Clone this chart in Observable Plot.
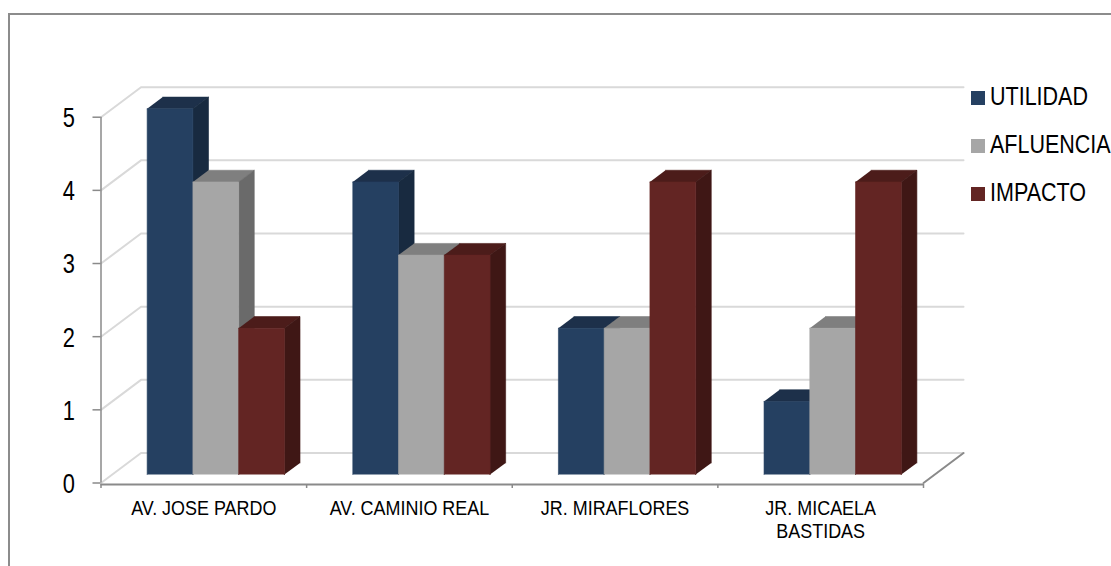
<!DOCTYPE html>
<html>
<head>
<meta charset="utf-8">
<script src="https://cdn.jsdelivr.net/npm/d3@7"></script>
<script src="https://cdn.jsdelivr.net/npm/@observablehq/plot@0.6"></script>
<style>
  html, body { margin: 0; padding: 0; background: #fff; overflow: hidden; }
  #chart { position: relative; width: 1111px; height: 566px; overflow: hidden;
           font-family: "Liberation Sans", sans-serif; }
  #frame { position: absolute; left: 8px; top: 13px; right: -10px; bottom: -10px;
           border: 2px solid #8c8c8c; pointer-events: none; }
  #chart svg { position: absolute; left: 0; top: 0; background: transparent; font-family: inherit; }
  .key { position: absolute; left: 971px; display: flex; align-items: center; height: 14px;
         font-size: 25px; color: #000; white-space: nowrap; }
  .key i { display: block; width: 14px; height: 14px; margin-right: 5px; flex: none; }
  .key span { display: block; transform: translateY(-2px) scaleX(0.86); transform-origin: left center; }
</style>
</head>
<body>
<div id="chart"><div id="frame"></div></div>
<script>
const categories = ["AV. JOSE PARDO", "AV. CAMINIO REAL", "JR. MIRAFLORES", "JR. MICAELA\nBASTIDAS"];
const seriesNames = ["UTILIDAD", "AFLUENCIA", "IMPACTO"];
const utilidad = [5, 4, 2, 1];
const afluencia = [4, 3, 2, 2];
const impacto = [2, 3, 4, 4];
const yTicks = [0, 1, 2, 3, 4, 5];

const frontColors = ["#254061", "#a6a6a6", "#632523"];
const topColors = ["#1d304a", "#7f7f7f", "#4c1c1a"];
const sideColors = ["#182a40", "#6a6a6a", "#3f1715"];

// Oblique projection: depth 0 is the front of the floor, depth 1 the back wall.
const depthX = 0.1946, depthY = 0.41;
const project = (x, y, d) => ({x: x + d * depthX, y: y + d * depthY});

const gap = 0.17, barW = 0.2225, d0 = 0.28, d1 = 0.67;
const allValues = [utilidad, afluencia, impacto];
const polys = [];
function poly(id, face, pts) { pts.forEach(p => polys.push({id, face, ...p})); }
categories.forEach((c, i) => {
  seriesNames.forEach((s, j) => {
    const v = allValues[j][i], a = i + gap + j * barW, b = a + barW, id = `${i}-${j}`;
    poly(id + "t", `${s}-t`, [project(a, v, d0), project(b, v, d0), project(b, v, d1), project(a, v, d1)]);
    poly(id + "s", `${s}-s`, [project(b, 0, d0), project(b, v, d0), project(b, v, d1), project(b, 0, d1)]);
    poly(id + "f", `${s}-f`, [project(a, 0, d0), project(a, v, d0), project(b, v, d0), project(b, 0, d0)]);
  });
});
const faceDomain = seriesNames.flatMap(s => [`${s}-f`, `${s}-t`, `${s}-s`]);
const faceRange = seriesNames.flatMap((s, j) => [frontColors[j], topColors[j], sideColors[j]]);

const grid = yTicks.flatMap(v => [project(0, v, 0), project(0, v, 1), project(4, v, 1)].map(p => ({...p, v})));

const axisGray = "#8a8a8a";
const plot = Plot.plot({
  width: 1111, height: 566,
  marginLeft: 100.5, marginRight: 188, marginTop: 116.7, marginBottom: 83.5,
  style: {background: "transparent"},
  x: {type: "linear", domain: [0, 4], axis: null},
  y: {domain: [0, 5], axis: null},
  color: {type: "ordinal", domain: faceDomain, range: faceRange},
  marks: [
    Plot.line(grid, {x: "x", y: "y", z: "v", stroke: "#d9d9d9", strokeWidth: 2, curve: "linear"}),
    Plot.line([project(4, 0, 0), project(4, 0, 1)], {x: "x", y: "y", stroke: axisGray, strokeWidth: 2}),
    Plot.line(polys, {x: "x", y: "y", z: "id", fill: "face", stroke: "face", strokeWidth: 0.6}),
    Plot.ruleX([0], {y1: 0, y2: 5, stroke: axisGray, strokeWidth: 1.5}),
    Plot.ruleY([0], {x1: 0, x2: 4, stroke: axisGray, strokeWidth: 2, dy: 1.5}),
    Plot.axisY(yTicks, {anchor: "left", tickSize: 8, tickPadding: 18, stroke: axisGray, strokeWidth: 1.5,
      fontSize: 28, label: null, tickFormat: d => d, textStroke: "none"}),
    Plot.axisX([0, 1, 2, 3, 4], {anchor: "bottom", tickSize: 4, tickFormat: () => "", stroke: axisGray, strokeWidth: 1.5, dy: 1.5, label: null}),
    Plot.text(categories, {x: (d, i) => i + 0.5, y: 0, text: d => d, dy: 15,
      lineAnchor: "top", lineHeight: 1.2, fontSize: 19.5, fill: "#000", className: "cat"})
  ]
});
const chart = document.getElementById("chart");
chart.appendChild(plot);

// The reference's type is condensed: squeeze the glyphs horizontally.
function squeeze(nodes, k) {
  nodes.forEach(n => {
    n.setAttribute("textLength", n.getComputedTextLength() * k);
    n.setAttribute("lengthAdjust", "spacingAndGlyphs");
  });
}
const yLabels = [...plot.querySelectorAll("text")].filter(t => !t.closest(".cat") && t.textContent !== "");
squeeze(yLabels, 0.78);
yLabels.forEach(t => t.setAttribute("dy", "1"));
squeeze(plot.querySelectorAll(".cat tspan"), 0.92);
plot.querySelectorAll(".cat text").forEach(t => {
  if (!t.querySelector("tspan")) squeeze([t], 0.92);
});

const keyTops = [91, 139, 187];
seriesNames.forEach((s, j) => {
  const el = document.createElement("div");
  el.className = "key";
  el.style.top = keyTops[j] + "px";
  el.innerHTML = `<i style="background:${frontColors[j]}"></i><span>${s}</span>`;
  chart.appendChild(el);
});
</script>
</body>
</html>
